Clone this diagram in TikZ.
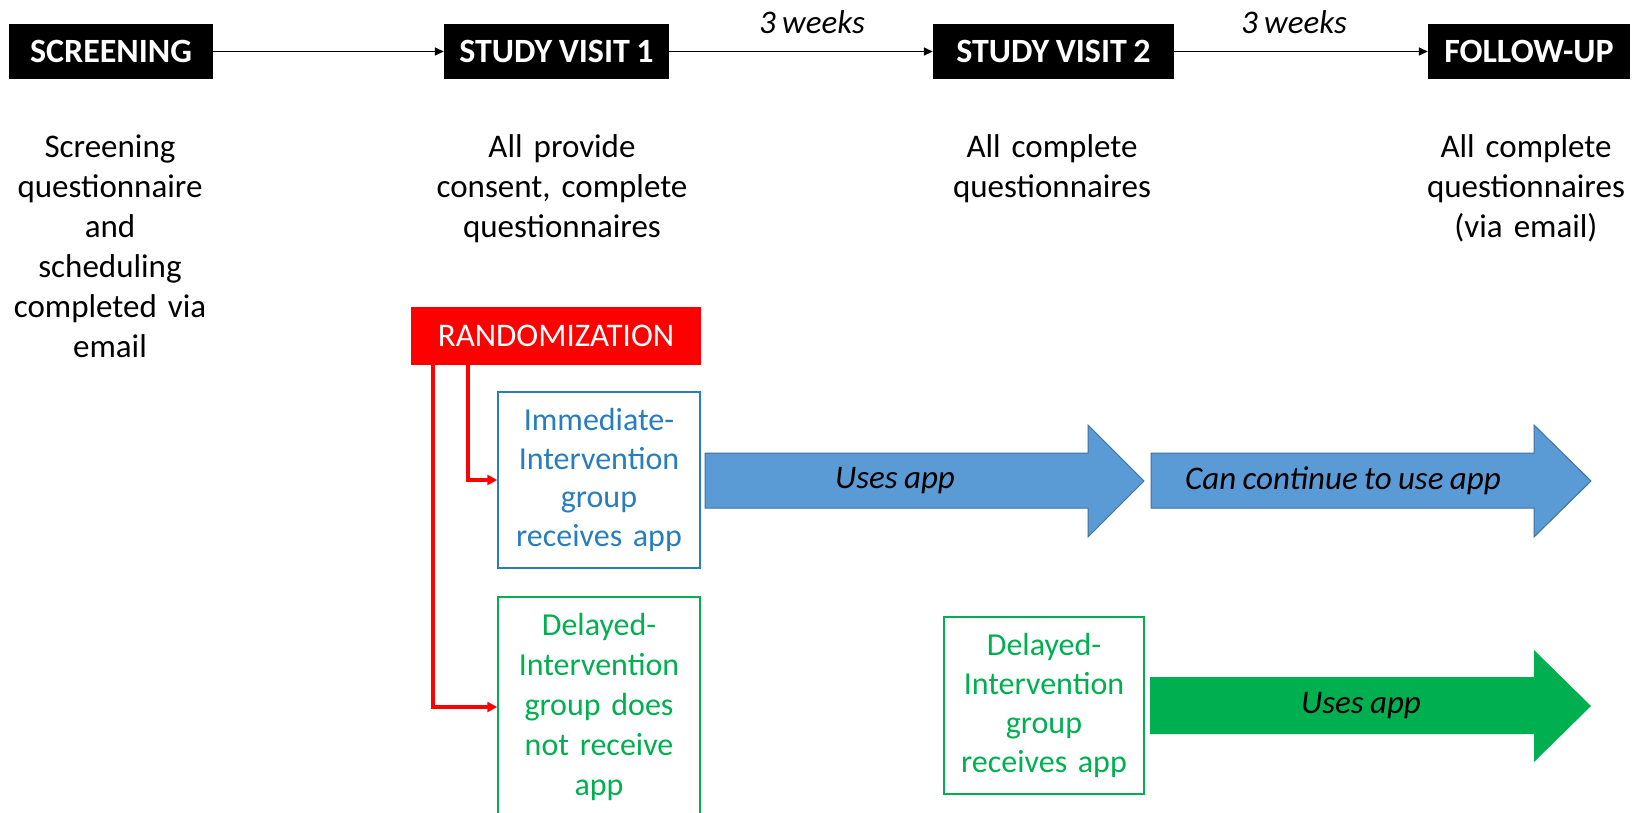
\documentclass[tikz,border=0pt]{standalone}
\usepackage{fontspec}
\setmainfont[WordSpace=0.85]{Carlito}
\usetikzlibrary{arrows.meta}
\definecolor{appblue}{RGB}{91,155,213}
\definecolor{appblueedge}{RGB}{65,113,156}
\definecolor{grpblue}{RGB}{40,125,190}
\definecolor{grpgreen}{RGB}{0,176,80}
\definecolor{randred}{RGB}{255,0,0}
\begin{document}
\begin{tikzpicture}[x=1pt,y=-1pt,
  phase/.style={fill=black,text=white,inner sep=0pt,minimum height=55pt,
    font=\fontsize{34}{40}\selectfont\bfseries},
  timeline/.style={line width=1.6pt,-{Triangle[length=9pt,width=8pt]}},
  weeks/.style={anchor=base,inner sep=0pt,font=\fontsize{33}{40}\selectfont\itshape},
  body/.style={anchor=base,inner sep=0pt,align=center,
    font=\fontsize{33}{40}\selectfont},
  grpbox/.style={draw,line width=1.5pt,inner sep=0pt,text width=200pt,
    align=center,minimum width=202pt},
  randbox/.style={fill=randred,text=white,inner sep=0pt,minimum width=290pt,
    minimum height=58pt,font=\fontsize{33}{40}\selectfont},
  split/.style={draw=randred,line width=3.5pt,
    -{Triangle[length=10pt,width=10pt]}},
  biglabel/.style={inner sep=0pt,font=\fontsize{33}{40}\selectfont\itshape}]

\clip (0,0) rectangle (1639,812);
\fill[white] (0,0) rectangle (1639,812);

% timeline of visits
\node[phase,minimum width=204pt] (scr) at (111,51.5) {SCREENING};
\node[phase,minimum width=225pt] (sv1) at (556.5,51.5) {STUDY VISIT 1};
\node[phase,minimum width=241pt] (sv2) at (1053.5,51.5) {STUDY VISIT 2};
\node[phase,minimum width=202pt] (fu) at (1529,51.5) {FOLLOW-UP};

\draw[timeline] (scr) -- (sv1);
\draw[timeline] (sv1) -- (sv2);
\draw[timeline] (sv2) -- (fu);

\node[weeks] (wk1) at (812,33) {3 weeks};
\node[weeks] (wk2) at (1294,33) {3 weeks};

% what happens at each visit
\node[body,text width=240pt] (scrtxt) at (110,157)
  {Screening\\questionnaire\\and\\scheduling\\completed via\\email};
\node[body,text width=290pt] (sv1txt) at (562,157)
  {All provide\\consent, complete\\questionnaires};
\node[body,text width=260pt] (sv2txt) at (1052,157)
  {All complete\\questionnaires};
\node[body,text width=240pt] (futxt) at (1526,157)
  {All complete\\questionnaires\\(via email)};

% randomisation into two groups
\node[randbox] (rand) at (556,336) {RANDOMIZATION};

\node[grpbox,draw=grpblue,text=grpblue,minimum height=176pt,
  font=\fontsize{32}{38.7}\selectfont] (imm) at (599,480)
  {Immediate-\\Intervention\\group\\receives app};
\node[grpbox,draw=grpgreen,text=grpgreen,minimum height=220pt,
  font=\fontsize{32}{40.2}\selectfont] (del) at (599,707)
  {Delayed-\\Intervention\\group does\\not receive\\app};
\node[grpbox,draw=grpgreen,text=grpgreen,minimum height=177pt,minimum width=200pt,
  font=\fontsize{32}{39.3}\selectfont] (del2) at (1044,705.5)
  {Delayed-\\Intervention\\group\\receives app};

\draw[split] ([xshift=57pt]rand.south west) |- (imm.west);
\draw[split] ([xshift=22pt]rand.south west) |- (del.west);

% app-use periods
\filldraw[fill=appblue,draw=appblueedge,line width=1pt]
  (705,453) -- (1088,453) -- (1088,425) -- (1144,481) -- (1088,537)
  -- (1088,508) -- (705,508) -- cycle;
\filldraw[fill=appblue,draw=appblueedge,line width=1pt]
  (1151,453) -- (1534,453) -- (1534,425) -- (1591,481) -- (1534,537)
  -- (1534,508) -- (1151,508) -- cycle;
\fill[grpgreen]
  (1150,677) -- (1534,677) -- (1534,650) -- (1591,706) -- (1534,762)
  -- (1534,734) -- (1150,734) -- cycle;

\node[biglabel] (use1) at (895,480.5) {Uses app};
\node[biglabel] (use2) at (1343,480.5) {Can continue to use app};
\node[biglabel] (use3) at (1361,705.5) {Uses app};
\end{tikzpicture}
\end{document}
